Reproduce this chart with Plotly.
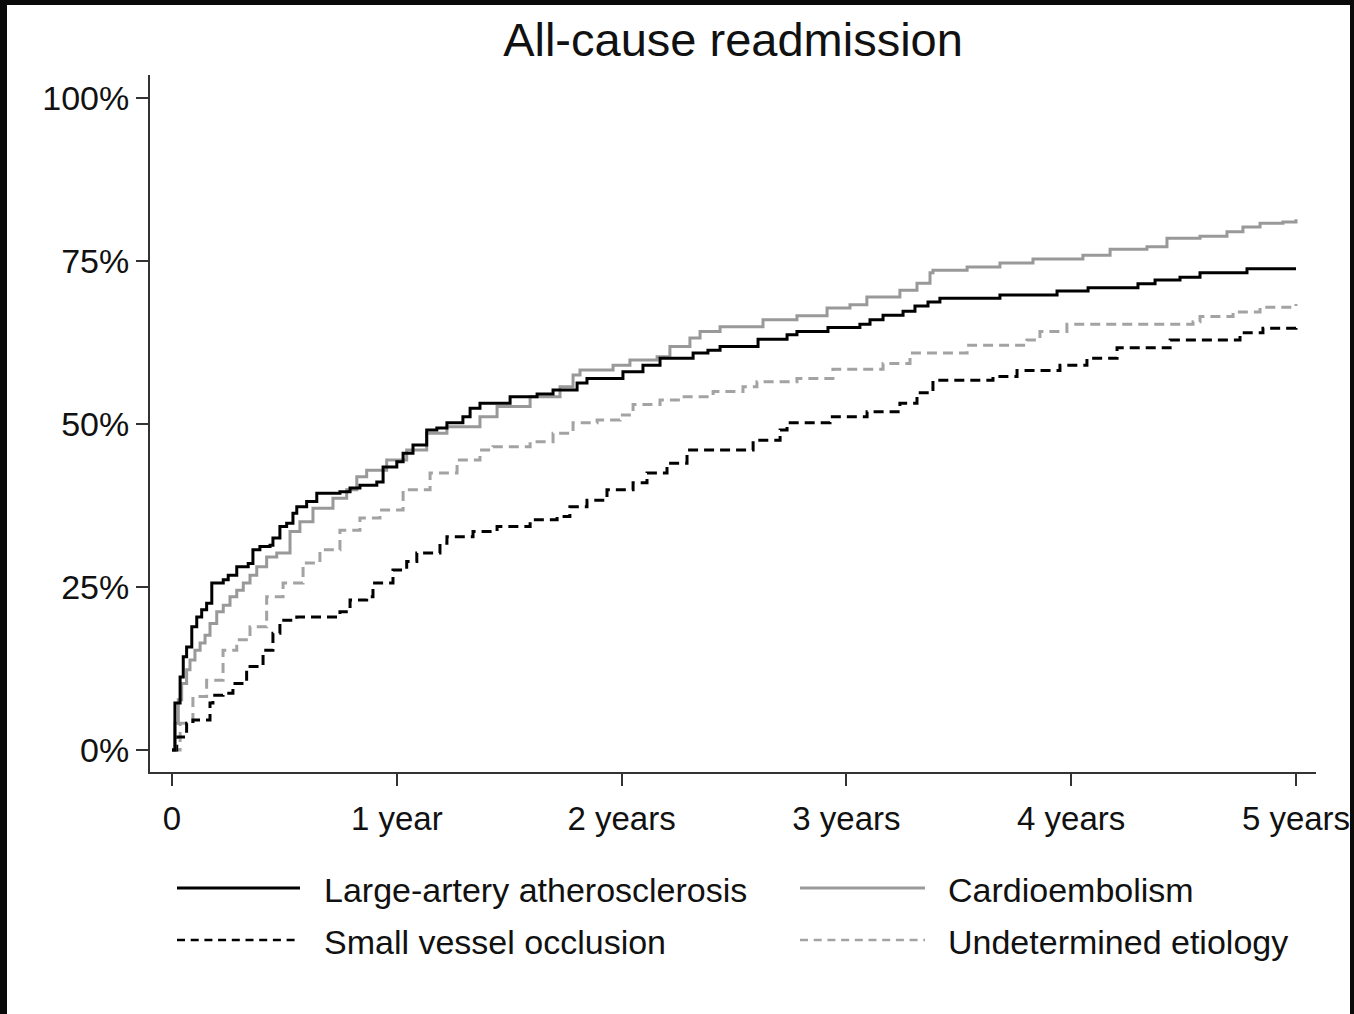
import plotly.graph_objects as go

# ---------------- data (years, cumulative %) ----------------
laa_x = [0, 0.013, 0.036, 0.050, 0.065, 0.088, 0.110, 0.132, 0.154, 0.177, 0.228, 0.250, 0.288, 0.339,
         0.360, 0.391, 0.436, 0.449, 0.480, 0.510, 0.538, 0.555, 0.599, 0.644, 0.747, 0.792, 0.836,
         0.911, 0.939, 1.000, 1.028, 1.072, 1.133, 1.178, 1.223, 1.294, 1.326, 1.370, 1.504, 1.624,
         1.695, 1.802, 1.846, 2.006, 2.095, 2.171, 2.318, 2.384, 2.438, 2.607, 2.736, 2.780, 2.918,
         3.060, 3.105, 3.163, 3.252, 3.305, 3.363, 3.416, 3.683, 3.937, 4.075, 4.297, 4.373, 4.484,
         4.573, 4.782, 5.0]
laa_y = [0, 7.2, 11.2, 14.3, 15.8, 18.9, 20.4, 21.5, 22.5, 25.6, 26.1, 26.8, 28.1, 28.6,
         30.7, 31.2, 31.4, 32.5, 34.3, 34.8, 36.3, 37.3, 38.1, 39.4, 39.6, 40.2, 40.6,
         41.1, 43.4, 44.2, 45.5, 46.8, 49.1, 49.4, 50.2, 51.1, 52.4, 53.2, 54.2, 54.6,
         55.2, 56.3, 57.0, 58.0, 59.0, 60.1, 60.9, 61.3, 61.9, 63.0, 63.7, 64.2, 64.8,
         65.3, 66.0, 66.7, 67.3, 68.1, 68.7, 69.3, 69.8, 70.4, 70.9, 71.5, 72.1, 72.5,
         73.2, 73.8, 73.8]

ce_x = [0, 0.013, 0.028, 0.043, 0.065, 0.080, 0.102, 0.125, 0.147, 0.169, 0.199, 0.228, 0.258, 0.288,
        0.317, 0.347, 0.377, 0.421, 0.466, 0.525, 0.569, 0.627, 0.716, 0.777, 0.822, 0.866, 0.955,
        1.044, 1.133, 1.223, 1.370, 1.446, 1.593, 1.726, 1.784, 1.815, 1.962, 2.037, 2.158, 2.215,
        2.304, 2.349, 2.438, 2.629, 2.780, 2.914, 3.016, 3.091, 3.238, 3.314, 3.372, 3.385, 3.537,
        3.683, 3.830, 4.052, 4.173, 4.337, 4.426, 4.573, 4.693, 4.764, 4.840, 4.942, 5.0]
ce_y = [0, 4.1, 7.7, 10.2, 12.3, 13.8, 15.3, 16.4, 17.6, 19.4, 21.2, 22.2, 23.5, 24.5,
        25.6, 26.8, 28.1, 29.6, 30.2, 33.5, 35.0, 37.1, 38.6, 39.9, 41.9, 42.9, 44.5,
        46.0, 48.6, 49.6, 51.1, 52.7, 54.2, 55.7, 57.5, 58.3, 59.0, 59.8, 60.3, 61.9,
        63.2, 64.2, 64.9, 66.0, 66.6, 67.8, 68.3, 69.5, 70.5, 71.6, 73.2, 73.6, 74.1,
        74.7, 75.3, 75.9, 76.8, 77.2, 78.5, 78.8, 79.5, 80.2, 80.8, 81.0, 81.4]

svo_x = [0, 0.021, 0.065, 0.093, 0.169, 0.182, 0.227, 0.271, 0.332, 0.405, 0.449, 0.480, 0.555, 0.747,
         0.792, 0.866, 0.894, 0.983, 1.044, 1.089, 1.192, 1.223, 1.339, 1.446, 1.593, 1.713, 1.770,
         1.846, 1.935, 2.051, 2.113, 2.202, 2.291, 2.585, 2.705, 2.736, 2.927, 3.092, 3.238, 3.314,
         3.385, 3.652, 3.759, 3.950, 4.070, 4.204, 4.440, 4.751, 4.853, 5.0]
svo_y = [0, 2.0, 4.1, 4.6, 7.2, 8.4, 8.7, 10.2, 12.8, 15.3, 17.9, 19.9, 20.4, 21.2,
         23.0, 23.5, 25.6, 27.6, 28.9, 30.2, 31.7, 32.7, 33.5, 34.3, 35.3, 35.8, 37.3,
         38.3, 39.9, 41.0, 42.5, 44.0, 46.0, 47.5, 49.1, 50.2, 51.1, 51.9, 53.2, 54.8,
         56.7, 57.3, 58.2, 59.0, 60.1, 61.7, 62.9, 64.0, 64.7, 65.1]

und_x = [0, 0.036, 0.093, 0.154, 0.227, 0.288, 0.347, 0.421, 0.494, 0.583, 0.658, 0.747, 0.836, 0.925,
         1.028, 1.148, 1.268, 1.370, 1.428, 1.593, 1.695, 1.784, 1.891, 1.993, 2.051, 2.171, 2.260,
         2.407, 2.540, 2.602, 2.780, 2.940, 3.163, 3.283, 3.537, 3.803, 3.861, 3.981, 4.542, 4.573,
         4.720, 4.840, 5.0]
und_y = [0, 4.1, 8.2, 10.7, 15.3, 16.9, 18.9, 23.5, 25.6, 28.7, 30.7, 33.7, 35.6, 36.8,
         39.9, 42.5, 44.5, 46.0, 46.5, 47.3, 48.6, 50.2, 50.6, 51.4, 53.0, 53.7, 54.2,
         55.0, 55.7, 56.5, 57.0, 58.4, 59.3, 60.9, 62.1, 62.9, 64.2, 65.3, 65.7, 66.5,
         67.2, 67.9, 68.4]

series_names = ["Large-artery atherosclerosis", "Cardioembolism",
                "Small vessel occlusion", "Undetermined etiology"]
x_tick_vals = [0, 1, 2, 3, 4, 5]
x_tick_text = ["0", "1 year", "2 years", "3 years", "4 years", "5 years"]
y_tick_vals = [0, 25, 50, 75, 100]
y_tick_text = ["0%", "25%", "50%", "75%", "100%"]
title_text = "All-cause readmission"

# ---------------- layout geometry ----------------
W, H = 1354, 1014
ML, MR, MT, MB = 150, 38, 75, 242
PW, PH = W - ML - MR, H - MT - MB

def px(xp):  # pixel x -> paper x
    return (xp - ML) / PW

def py(yp):  # pixel y -> paper y
    return 1 - (yp - MT) / PH

FONT = "Liberation Sans, Arial, Helvetica, sans-serif"
BLACK = "#000000"
GRAY = "#999999"
LGRAY = "#a3a3a3"
DASH_PLOT = "10px,6px"
DASH_LEG = "8px,5.7px"

styles = [
    dict(color=BLACK, dash="solid"),
    dict(color=GRAY, dash="solid"),
    dict(color=BLACK, dash=DASH_PLOT),
    dict(color=LGRAY, dash=DASH_PLOT),
]
xs = [laa_x, ce_x, svo_x, und_x]
ys = [laa_y, ce_y, svo_y, und_y]

fig = go.Figure()
for i in [3, 2, 1, 0]:
    fig.add_trace(go.Scatter(
        x=xs[i], y=ys[i], mode="lines", name=series_names[i],
        line=dict(color=styles[i]["color"], dash=styles[i]["dash"], width=3, shape="hv"),
        showlegend=False))

fig.update_layout(
    width=W, height=H, autosize=False,
    margin=dict(l=ML, r=MR, t=MT, b=MB, pad=0, autoexpand=False),
    paper_bgcolor="white", plot_bgcolor="white",
    font=dict(family=FONT, color="#111111"),
    title=dict(text=title_text, x=px(733), xref="paper", xanchor="center",
               y=1 - 40 / H, yref="container", yanchor="middle",
               font=dict(size=47, family=FONT, color="#111111")),
)
fig.update_xaxes(
    range=[-0.0979, 5.089], tickvals=x_tick_vals, ticktext=x_tick_text, automargin=False,
    showgrid=False, zeroline=False, showline=True, linecolor="#333333", linewidth=2,
    ticks="outside", ticklen=12, tickwidth=2, tickcolor="#333333",
    tickfont=dict(size=33, family=FONT, color="#111111"), ticklabelstandoff=4,
)
fig.update_yaxes(
    range=[-3.37, 103.53], tickvals=y_tick_vals, ticktext=y_tick_text, automargin=False,
    showgrid=False, zeroline=False, showline=True, linecolor="#333333", linewidth=2,
    ticks="outside", ticklen=12, tickwidth=2, tickcolor="#333333",
    tickfont=dict(size=34, family=FONT, color="#111111"), ticklabelstandoff=0,
)

# ---------------- manual legend ----------------
leg_rows = [888, 940]
leg_cols = [(177, 300, 322), (800, 925, 946)]
shapes = []
annotations = []
for k, idx in enumerate([0, 1, 2, 3]):
    r, c = divmod(k, 2)
    x0, x1, xt = leg_cols[c]
    yrow = leg_rows[r]
    st = styles[idx]
    dash = "solid" if st["dash"] == "solid" else DASH_LEG
    shapes.append(dict(type="line", xref="paper", yref="paper",
                       x0=px(x0), x1=px(x1), y0=py(yrow), y1=py(yrow),
                       line=dict(color=st["color"], width=3 if dash == "solid" else 2.5, dash=dash)))
    annotations.append(dict(text=series_names[idx], xref="paper", yref="paper",
                            x=px(xt), y=py(yrow + 2), xanchor="left", yanchor="middle",
                            showarrow=False, font=dict(size=34, family=FONT, color="#111111")))

# black frame of the original image
for (a, b, c_, d) in [(0, 0, 7, H), (0, 0, W, 5), (1350, 0, W, H)]:
    shapes.append(dict(type="rect", xref="paper", yref="paper",
                       x0=px(a), x1=px(c_), y0=py(b), y1=py(d),
                       fillcolor="#0a0a0a", line=dict(width=0), layer="above"))

fig.update_layout(shapes=shapes, annotations=annotations)
fig.write_html("out.html", config={"displayModeBar": False},
               post_script="document.body.style.margin='0px';document.body.style.overflow='hidden';")
